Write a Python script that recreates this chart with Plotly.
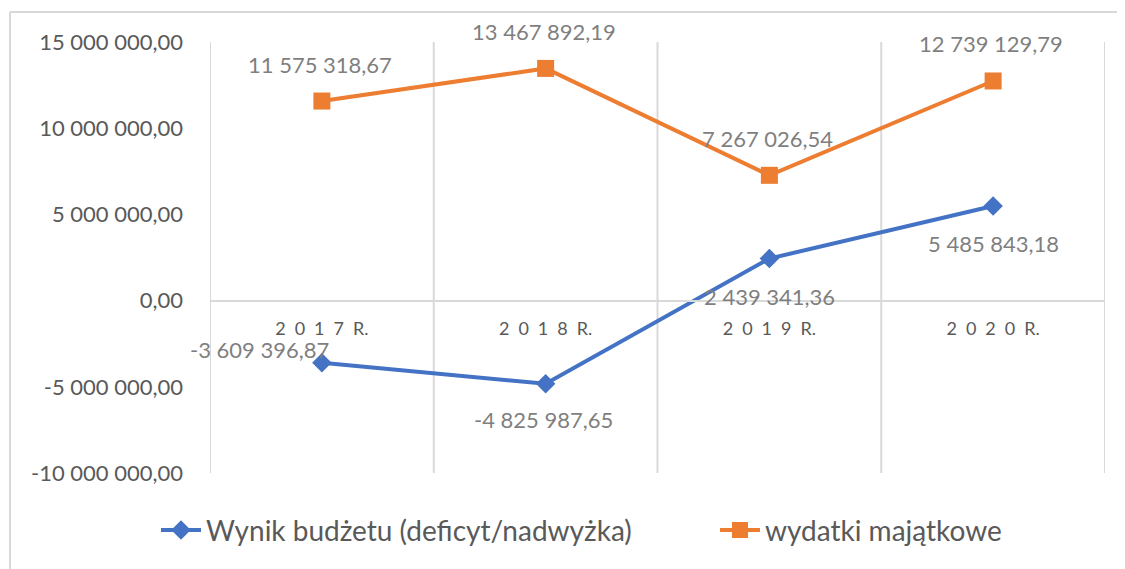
import plotly.graph_objects as go

categories = ["2\u20020\u20021\u20027\u2002R.", "2\u20020\u20021\u20028\u2002R.",
              "2\u20020\u20021\u20029\u2002R.", "2\u20020\u20022\u20020\u2002R."]
wynik = [-3609396.87, -4825987.65, 2439341.36, 5485843.18]
wydatki = [11575318.67, 13467892.19, 7267026.54, 12739129.79]
y_ticks = [-10000000, -5000000, 0, 5000000, 10000000, 15000000]

series_names = ["Wynik budżetu (deficyt/nadwyżka)", "wydatki majątkowe"]
BLUE = "#4472C4"
ORANGE = "#ED7D31"
FONT = "Lato"
TXT = "#595959"
LBL = "#7F7F7F"
GRID = "#D9D9D9"


def fmt(v):
    s = f"{abs(v):,.2f}".replace(",", " ").replace(".", ",")
    return ("-" if v < 0 else "") + s


x = list(range(len(categories)))

fig = go.Figure()
fig.add_trace(go.Scatter(
    x=x, y=wynik, name=series_names[0], mode="lines+markers", legend="legend",
    line=dict(color=BLUE, width=4), marker=dict(symbol="diamond", size=15, color=BLUE),
))
fig.add_trace(go.Scatter(
    x=x, y=wydatki, name=series_names[1], mode="lines+markers", legend="legend2",
    line=dict(color=ORANGE, width=4), marker=dict(symbol="square", size=17, color=ORANGE),
))

# data labels
ann = []
for i, v in enumerate(wydatki):
    ann.append(dict(x=i, y=v, text=fmt(v), showarrow=False, yshift=37, xshift=-2,
                    font=dict(family=FONT, size=22, color=LBL)))
blue_off = [(-62, 13), (-2, -36), (0, -38), (0, -37)]
for i, v in enumerate(wynik):
    dx, dy = blue_off[i]
    ann.append(dict(x=i, y=v, text=fmt(v), showarrow=False, xshift=dx, yshift=dy,
                    font=dict(family=FONT, size=22, color=LBL)))

# plot area: x 202..1097, y 34..465 in figure pixels (page has 8px body margin)
PW, PH = 895, 431
bx = (2 - 202) / PW
by = (465 - 4) / PH
shapes = [dict(type="line", xref="paper", yref="paper", x0=bx, x1=1.2, y0=by, y1=by,
               line=dict(color=GRID, width=2)),
          dict(type="line", xref="paper", yref="paper", x0=bx, x1=bx, y0=by, y1=-0.5,
               line=dict(color=GRID, width=2))]
for i in range(len(categories) + 1):
    shapes.append(dict(type="line", xref="x", yref="paper", x0=i - 0.5, x1=i - 0.5, y0=0, y1=1,
                       line=dict(color=GRID, width=2), layer="below"))

leg_common = dict(orientation="h", xanchor="left", y=-0.075, yanchor="top",
                  font=dict(family=FONT, size=28, color=TXT), itemwidth=40,
                  bgcolor="rgba(0,0,0,0)")

fig.update_layout(
    width=1125, height=569,
    margin=dict(l=202, r=28, t=34, b=104),
    paper_bgcolor="white", plot_bgcolor="white",
    font=dict(family=FONT, color=TXT),
    showlegend=True,
    legend=dict(x=(148 - 202) / PW, **leg_common),
    legend2=dict(x=(707 - 202) / PW, **leg_common),
    xaxis=dict(
        range=[-0.5, len(categories) - 0.5],
        tickvals=x, ticktext=categories, ticks="", showgrid=False,
        anchor="free", position=0.4, showline=True, linecolor=GRID, linewidth=2,
        tickfont=dict(family=FONT, size=18, color=TXT), ticklabelstandoff=12,
        zeroline=False, fixedrange=True,
    ),
    yaxis=dict(
        range=[-10000000, 15000000], tickvals=y_ticks, ticktext=[fmt(v) for v in y_ticks],
        showgrid=False, zeroline=False, ticks="", ticklen=0,
        tickfont=dict(family=FONT, size=22, color=TXT), ticklabelstandoff=26,
    ),
    annotations=ann, shapes=shapes,
)

fig.write_html("out.html")
